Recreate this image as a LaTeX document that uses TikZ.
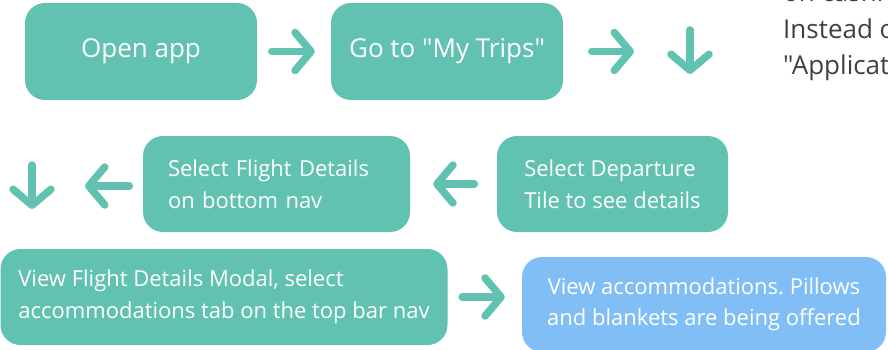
\documentclass[tikz,border=0pt]{standalone}
\usepackage{fontspec}
\setmainfont{Open Sans}[Ligatures=TeXOff]
\usetikzlibrary{arrows.meta}
\definecolor{tealbox}{HTML}{62C2B1}
\definecolor{skybox}{HTML}{80BEF5}
\definecolor{notegray}{HTML}{404040}
\frenchspacing
\begin{document}
\begin{tikzpicture}[x=1pt,y=-1pt,
  card/.style={rectangle,rounded corners=20pt,fill=tealbox,text=white,inner sep=0pt},
  bigtext/.style={font=\fontsize{26}{32}\selectfont,align=center},
  smalltext/.style={font=\fontsize{22}{31.5}\selectfont,align=left},
  flow/.style={draw=tealbox,line width=7.5pt,line cap=round,
    -{Straight Barb[length=16pt,width=38pt,round]}}]
 \clip (0,0) rectangle (888,350);
 % top row
 \node[card,bigtext,minimum width=232pt,minimum height=97pt] (open) at (141,51.5) {Open app};
 \node[card,bigtext,minimum width=232pt,minimum height=97pt] (trips) at (447,51.5) {Go to "My Trips"};
 \coordinate (r1) at (634,51.5);
 \coordinate (d0) at (690,30);
 \coordinate (d1) at (690,74);
 \node[anchor=north west,inner sep=0pt,text=notegray,align=left,
   font=\fontsize{26}{36.5}\selectfont] (note) at (783,-18) {on cashi\\Instead o\\"Applicat};
 % middle row
 \node[card,smalltext,inner xsep=25pt,text width=217pt,minimum height=96pt] (flight) at (276.5,184)
   {Select Flight Details\\on bottom nav};
 \node[card,smalltext,minimum width=231pt,minimum height=96pt] (depart) at (612.5,184)
   {Select Departure\\Tile to see details};
 \coordinate (l1) at (85,186);
 \coordinate (e0) at (32,165);
 \coordinate (e1) at (32,209);
 % bottom row
 \node[card,smalltext,minimum width=447pt,minimum height=96pt] (modal) at (224,297)
   {View Flight Details Modal, select\\accommodations tab on the top bar nav};
 \node[card,smalltext,fill=skybox,align=center,minimum width=364pt,minimum height=95pt] (accom) at (704,304.5)
   {View accommodations. Pillows\\and blankets are being offered};
 % arrows
 \draw[flow,shorten <=14.5pt,shorten >=16pt] (open) -- (trips);
 \draw[flow,shorten <=28.5pt] (trips.east) -- (r1);
 \draw[flow] (d0) -- (d1);
 \draw[flow,shorten <=22.5pt,shorten >=23pt] (depart.west) -- (flight.east |- depart.west);
 \draw[flow,shorten <=13.5pt] (flight.west |- l1) -- (l1);
 \draw[flow] (e0) -- (e1);
 \draw[flow,shorten <=14.5pt,shorten >=17pt] (modal.east) -- (modal.east -| accom.west);
\end{tikzpicture}
\end{document}
